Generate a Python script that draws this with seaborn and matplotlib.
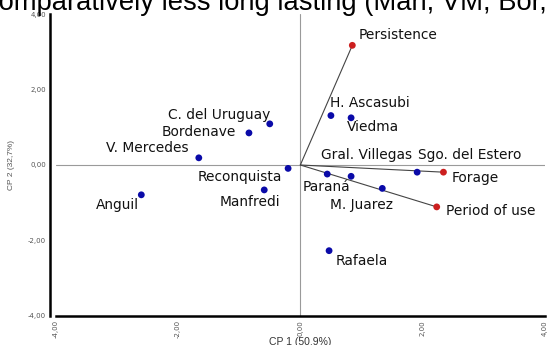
import pandas as pd
import matplotlib.pyplot as plt
import seaborn as sns

# Biplot scores
sites = ['C. del Uruguay', 'Bordenave', 'V. Mercedes', 'Reconquista', 'Anguil',
         'Manfredi', 'H. Ascasubi', 'Viedma', 'Paraná', 'Gral. Villegas',
         'Sgo. del Estero', 'M. Juarez', 'Rafaela']
site_cp1 = [-0.50, -0.84, -1.66, -0.20, -2.60, -0.59, 0.50, 0.83, 0.44, 0.83, 1.91, 1.34, 0.47]
site_cp2 = [1.09, 0.85, 0.19, -0.09, -0.79, -0.66, 1.31, 1.25, -0.24, -0.30, -0.19, -0.62, -2.27]

variables = ['Persistence', 'Forage', 'Period of use']
var_cp1 = [0.85, 2.34, 2.23]
var_cp2 = [3.17, -0.19, -1.11]

ticks = [-4, -2, 0, 2, 4]

# where each label sits (left edge, vertical centre), in data units
label_pos = {
    'Persistence': (0.95, 3.44), 'H. Ascasubi': (0.49, 1.65), 'Viedma': (0.76, 1.00),
    'Gral. Villegas': (0.33, 0.26), 'Sgo. del Estero': (1.93, 0.26), 'Forage': (2.48, -0.35),
    'Paraná': (0.03, -0.57), 'M. Juarez': (0.48, -1.06), 'Period of use': (2.38, -1.21),
    'Rafaela': (0.57, -2.54), 'C. del Uruguay': (-2.17, 1.32), 'Bordenave': (-2.27, 0.87),
    'V. Mercedes': (-3.17, 0.46), 'Reconquista': (-1.68, -0.31), 'Manfredi': (-1.32, -0.97),
    'Anguil': (-3.35, -1.06),
}

df = pd.DataFrame({
    'name': sites + variables,
    'CP1': site_cp1 + var_cp1,
    'CP2': site_cp2 + var_cp2,
    'kind': ['site'] * len(sites) + ['variable'] * len(variables),
})

sns.set_style('white')
fig = plt.figure(figsize=(5.47, 3.45), dpi=100)
ax = fig.add_axes([0.1018, 0.0841, 0.8945, 0.8753])

ax.axhline(0, color='#9a9a9a', lw=0.8, zorder=1)
ax.axvline(0, color='#9a9a9a', lw=0.8, zorder=1)

# vectors from origin to the variables
for x, y in zip(var_cp1, var_cp2):
    ax.plot([0, x], [0, y], color='#444444', lw=0.8, zorder=2)

sns.scatterplot(data=df, x='CP1', y='CP2', hue='kind',
                palette={'site': '#0a0aa8', 'variable': '#cc1f1f'},
                s=24, linewidth=0, legend=False, ax=ax, zorder=3)

for name in df['name']:
    lx, ly = label_pos[name]
    ax.text(lx, ly, name, ha='left', va='center', fontsize=9.9,
            color='#111111', family='DejaVu Sans')

ax.set_xlim(-4, 4)
ax.set_ylim(-4, 4)
ax.set_xticks(ticks)
ax.set_yticks(ticks)
ax.set_xticklabels([f'{t:.2f}'.replace('.', ',') for t in ticks], rotation=90)
ax.set_yticklabels([f'{t:.2f}'.replace('.', ',') for t in ticks])
ax.tick_params(axis='both', labelsize=5, labelcolor='#555555', length=3,
               width=1.2, direction='inout', color='black', pad=1.5)

for side in ['top', 'right']:
    ax.spines[side].set_visible(False)
for side in ['left', 'bottom']:
    ax.spines[side].set_linewidth(1.8)
    ax.spines[side].set_color('black')
ax.spines['left'].set_position(('outward', 4))

ax.set_xlabel('CP 1 (50,9%)', fontsize=7.5, color='#333333',
              family='Liberation Sans')
ax.xaxis.set_label_coords(0.5, -0.068)
ax.set_ylabel('CP 2 (32,7%)', fontsize=6, color='#555555',
              family='Liberation Sans')
ax.yaxis.set_label_coords(-0.083, 0.5)

# clipped caption line at the very top of the screenshot
fig.text(-0.028, 1 - 10 / 345, 'comparatively less long lasting (Man, VM, Bor,',
         ha='left', va='baseline', fontsize=19.7, color='black', family='Liberation Sans')

fig.savefig('out.png', dpi=100)
